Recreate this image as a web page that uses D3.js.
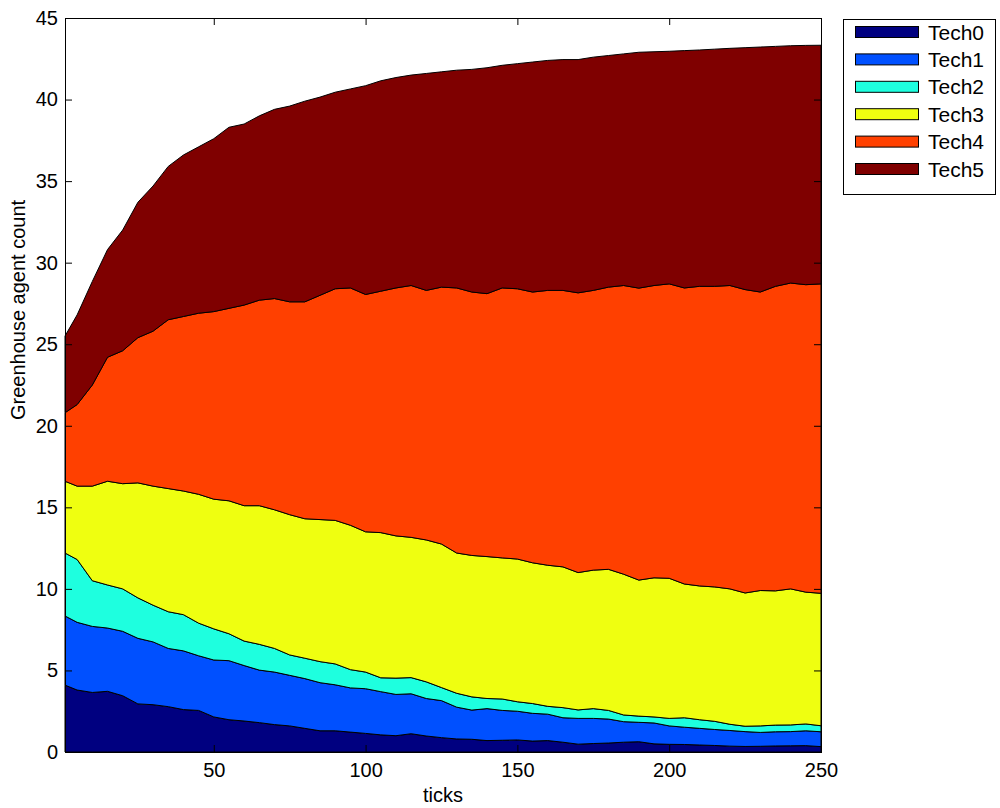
<!DOCTYPE html>
<html>
<head>
<meta charset="utf-8">
<script src="https://cdn.jsdelivr.net/npm/d3@7"></script>
<style>
  html, body { margin: 0; padding: 0; background: #ffffff; }
  svg { display: block; }
  text { font-family: "Liberation Sans", Arial, Helvetica, sans-serif; }
</style>
</head>
<body>
<svg id="chart" width="1000" height="808"></svg>
<script>
// ---- data ----
const seriesNames = ["Tech0", "Tech1", "Tech2", "Tech3", "Tech4", "Tech5"];
const seriesColors = ["#000080", "#0050ff", "#1effdf", "#efff10", "#ff4000", "#7f0000"];
const ticks = [1, 5, 10, 15, 20, 25, 30, 35, 40, 45, 50, 55, 60, 65, 70, 75, 80, 85, 90, 95, 100,
  105, 110, 115, 120, 125, 130, 135, 140, 145, 150, 155, 160, 165, 170, 175, 180, 185, 190, 195, 200,
  205, 210, 215, 220, 225, 230, 235, 240, 245, 250];
const tech0 = [4.1, 3.8, 3.65, 3.72, 3.45, 2.95, 2.9, 2.78, 2.6, 2.55, 2.15, 1.98, 1.9, 1.8, 1.68, 1.6, 1.45, 1.3, 1.3, 1.22, 1.14,
  1.05, 1.0, 1.12, 0.98, 0.88, 0.8, 0.78, 0.7, 0.72, 0.74, 0.67, 0.7, 0.6, 0.48, 0.52, 0.55, 0.6, 0.63, 0.5, 0.47,
  0.46, 0.43, 0.4, 0.36, 0.34, 0.35, 0.37, 0.38, 0.39, 0.33];
const tech1 = [4.24, 4.15, 4.05, 3.88, 3.95, 4.02, 3.85, 3.57, 3.6, 3.35, 3.49, 3.62, 3.4, 3.22, 3.22, 3.1, 3.05, 2.95, 2.82, 2.71, 2.74,
  2.65, 2.53, 2.45, 2.3, 2.27, 1.95, 1.79, 1.96, 1.83, 1.76, 1.7, 1.62, 1.5, 1.58, 1.54, 1.47, 1.26, 1.19, 1.28, 1.13,
  1.06, 1.02, 0.98, 0.96, 0.91, 0.85, 0.87, 0.87, 0.91, 0.91];
const tech2 = [3.86, 3.85, 2.8, 2.64, 2.6, 2.48, 2.25, 2.25, 2.22, 2.0, 1.91, 1.65, 1.5, 1.58, 1.45, 1.25, 1.25, 1.29, 1.28, 1.12, 1.02,
  0.85, 1.0, 0.99, 1.02, 0.8, 0.85, 0.81, 0.62, 0.7, 0.58, 0.6, 0.48, 0.62, 0.52, 0.6, 0.53, 0.41, 0.38, 0.37, 0.46,
  0.58, 0.53, 0.5, 0.38, 0.33, 0.4, 0.41, 0.41, 0.42, 0.37];
const tech3 = [4.4, 4.5, 5.8, 6.36, 6.45, 7.05, 7.3, 7.55, 7.58, 7.9, 7.95, 8.15, 8.3, 8.5, 8.5, 8.6, 8.55, 8.71, 8.8, 8.85, 8.6,
  8.9, 8.72, 8.6, 8.7, 8.8, 8.6, 8.67, 8.7, 8.65, 8.75, 8.63, 8.65, 8.63, 8.42, 8.49, 8.65, 8.63, 8.34, 8.53, 8.59,
  8.2, 8.2, 8.24, 8.3, 8.17, 8.3, 8.23, 8.34, 8.08, 8.12];
const tech4 = [4.2, 5.0, 6.2, 7.6, 8.15, 8.9, 9.5, 10.35, 10.7, 11.1, 11.5, 11.8, 12.3, 12.6, 12.95, 13.05, 13.3, 13.75, 14.2, 14.55, 14.55,
  14.8, 15.2, 15.44, 15.3, 15.75, 16.25, 16.15, 16.12, 16.55, 16.57, 16.6, 16.85, 16.95, 17.15, 17.15, 17.3, 17.7, 17.9, 17.92, 18.05,
  18.15, 18.37, 18.43, 18.6, 18.6, 18.3, 18.67, 18.75, 18.85, 18.97];
const tech5 = [4.7, 5.5, 6.35, 6.6, 7.4, 8.3, 8.9, 9.4, 9.9, 10.2, 10.6, 11.1, 11.1, 11.3, 11.6, 12.0, 12.3, 12.15, 12.05, 12.2, 12.8,
  12.9, 12.9, 12.9, 13.3, 13.2, 13.35, 13.65, 13.85, 13.65, 13.8, 14.1, 14.1, 14.15, 14.3, 14.3, 14.2, 14.2, 14.46, 14.33, 14.26,
  14.55, 14.49, 14.54, 14.54, 14.83, 15.02, 14.71, 14.55, 14.67, 14.63];
const xTickValues = [50, 100, 150, 200, 250];
const yTickValues = [0, 5, 10, 15, 20, 25, 30, 35, 40, 45];
const xLabel = "ticks";
const yLabel = "Greenhouse agent count";

// ---- build table for the stack ----
const seriesValues = [tech0, tech1, tech2, tech3, tech4, tech5];
const rows = ticks.map((t, i) => {
  const r = { tick: t };
  seriesNames.forEach((n, k) => { r[n] = seriesValues[k][i]; });
  return r;
});

const svg = d3.select("#chart");
const plot = { left: 65, right: 821, top: 18, bottom: 752 };

const x = d3.scaleLinear().domain([1, 250]).range([plot.left, plot.right]);
const y = d3.scaleLinear().domain([0, 45]).range([plot.bottom, plot.top]);

const stacked = d3.stack().keys(seriesNames)(rows);

const area = d3.area()
  .x(d => x(d.data.tick))
  .y0(d => y(d[0]))
  .y1(d => y(d[1]));

svg.append("rect")
  .attr("x", plot.left).attr("y", plot.top)
  .attr("width", plot.right - plot.left).attr("height", plot.bottom - plot.top)
  .attr("fill", "#ffffff");

svg.append("g")
  .selectAll("path")
  .data(stacked)
  .join("path")
  .attr("d", area)
  .attr("fill", (d, i) => seriesColors[i])
  .attr("stroke", "#000")
  .attr("stroke-width", 1)
  .attr("stroke-linejoin", "round");

// ---- axes ----
const fontSize = 20;
const tickLen = 7;

const gx = svg.append("g").attr("transform", `translate(0,${plot.bottom})`)
  .call(d3.axisBottom(x).tickValues(xTickValues).tickSizeInner(-tickLen).tickSizeOuter(0).tickPadding(11));
const gxTop = svg.append("g").attr("transform", `translate(0,${plot.top})`)
  .call(d3.axisTop(x).tickValues(xTickValues).tickSizeInner(-tickLen).tickSizeOuter(0).tickFormat(""));
const gy = svg.append("g").attr("transform", `translate(${plot.left},0)`)
  .call(d3.axisLeft(y).tickValues(yTickValues).tickSizeInner(-tickLen).tickSizeOuter(0).tickPadding(7));
const gyRight = svg.append("g").attr("transform", `translate(${plot.right},0)`)
  .call(d3.axisRight(y).tickValues(yTickValues).tickSizeInner(-tickLen).tickSizeOuter(0).tickFormat(""));

[gx, gxTop, gy, gyRight].forEach(g => {
  g.select(".domain").remove();
  g.selectAll("line").attr("stroke", "#000").attr("stroke-width", 1);
  g.selectAll("text").attr("fill", "#000").style("font-size", fontSize + "px")
    .style("font-family", '"Liberation Sans", Arial, sans-serif');
});

// axis box
svg.append("rect")
  .attr("x", plot.left + 0.5).attr("y", plot.top + 0.5)
  .attr("width", plot.right - plot.left).attr("height", plot.bottom - plot.top)
  .attr("fill", "none").attr("stroke", "#000").attr("stroke-width", 1);

// axis labels
svg.append("text")
  .attr("x", (plot.left + plot.right) / 2).attr("y", 802)
  .attr("text-anchor", "middle")
  .style("font-size", fontSize + "px")
  .text(xLabel);

svg.append("text")
  .attr("transform", `translate(25,310) rotate(-90)`)
  .attr("text-anchor", "middle")
  .style("font-size", fontSize + "px")
  .text(yLabel);

// ---- legend ----
const legend = svg.append("g");
legend.append("rect")
  .attr("x", 843.5).attr("y", 19.5).attr("width", 152).attr("height", 175)
  .attr("fill", "#fff").attr("stroke", "#000").attr("stroke-width", 1);
const rowGap = 27.4;
seriesNames.forEach((n, i) => {
  const cy = 32 + i * rowGap;
  legend.append("rect")
    .attr("x", 855.5).attr("y", cy - 5.5).attr("width", 63).attr("height", 11)
    .attr("fill", seriesColors[i]).attr("stroke", "#000").attr("stroke-width", 1);
  legend.append("text")
    .attr("x", 928).attr("y", cy).attr("dy", "0.36em")
    .style("font-size", "21px")
    .text(n);
});
</script>
</body>
</html>
